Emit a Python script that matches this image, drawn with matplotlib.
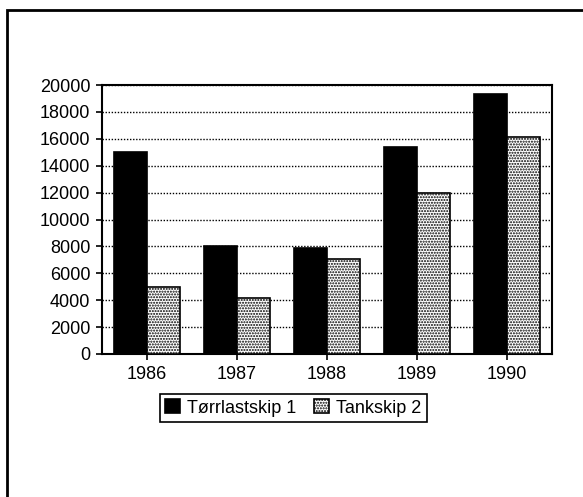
import matplotlib
matplotlib.use("Agg")
import matplotlib.pyplot as plt
from matplotlib.patches import Rectangle
import numpy as np

years = ["1986", "1987", "1988", "1989", "1990"]
torrlast = [15000, 8000, 7900, 15400, 19300]
tank = [5000, 4200, 7100, 12000, 16100]
series_names = ["Tørrlastskip 1", "Tankskip 2"]
yticks = [0, 2000, 4000, 6000, 8000, 10000, 12000, 14000, 16000, 18000, 20000]

plt.rcParams['font.family'] = ['Liberation Sans', 'DejaVu Sans']
plt.rcParams['hatch.linewidth'] = 1.0

fig = plt.figure(figsize=(5.83, 4.97), dpi=100)
fig.patch.set_facecolor("white")
ax = fig.add_axes([102/583, 1-354/497, 450/583, 269/497])

x = np.arange(len(years))
w = 0.366
ax.bar(x - w/2, torrlast, width=w, color="black", edgecolor="black", linewidth=1.2,
       label=series_names[0], zorder=3)
ax.bar(x + w/2, tank, width=w, color="white", edgecolor="black", linewidth=1.2,
       hatch="......", label=series_names[1], zorder=3)

ax.set_xlim(-0.5, len(years) - 0.5)
ax.set_ylim(0, 20000)
ax.set_yticks(yticks)
ax.set_yticklabels([str(v) for v in yticks])
ax.set_xticks(x)
ax.set_xticklabels(years)
ax.yaxis.grid(True, linestyle=(0, (1, 1.2)), color="black", linewidth=1.0, zorder=1)
ax.set_axisbelow(True)
ax.tick_params(axis="both", direction="out", length=4.5, width=1.2, labelsize=13,
               colors="black", pad=4)
for s in ax.spines.values():
    s.set_linewidth(1.5)
    s.set_color("black")

leg = fig.legend(loc="upper left", bbox_to_anchor=(160/583, 1 - 394/497), ncol=2, frameon=True,
                 fancybox=False, edgecolor="black", fontsize=13, handlelength=0.8,
                 handleheight=0.8, handletextpad=0.4, columnspacing=1.0,
                 borderpad=0.3, borderaxespad=0, framealpha=1)
leg.get_frame().set_linewidth(1.2)

fig.add_artist(Rectangle((7/583, -0.05), 1.1, 1 - 10/497 + 0.05,
                         transform=fig.transFigure, fill=False,
                         edgecolor="black", linewidth=2))

fig.savefig("out.png", dpi=100, facecolor="white")
